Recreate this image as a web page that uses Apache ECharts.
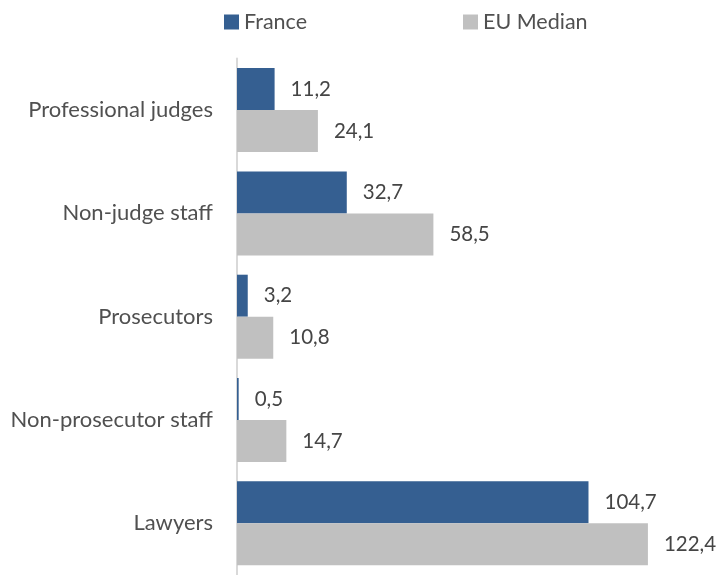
<!DOCTYPE html>
<html><head><meta charset="utf-8">
<script src="https://cdn.jsdelivr.net/npm/echarts@6/dist/echarts.min.js"></script>
<style>html,body{margin:0;padding:0;background:#fff}#c{width:723px;height:575px}</style>
</head><body><div id="c"></div>
<script>
var categories = ['Professional judges', 'Non-judge staff', 'Prosecutors', 'Non-prosecutor staff', 'Lawyers'];
var seriesNames = ['France', 'EU Median'];
var franceValues = [11.2, 32.7, 3.2, 0.5, 104.7];
var euMedianValues = [24.1, 58.5, 10.8, 14.7, 122.4];

var FONT = 'Lato';
var fmt = function (p) { return String(p.value.toFixed(1)).replace('.', ','); };
var chart = echarts.init(document.getElementById('c'));
chart.setOption({
  animation: false,
  textStyle: { fontFamily: FONT },
  legend: {
    left: 219, top: 6, itemWidth: 15, itemHeight: 15, itemGap: 156,
    icon: 'rect',
    textStyle: { fontFamily: FONT, fontSize: 21.5, color: '#505050' },
    data: seriesNames
  },
  grid: { left: 237, top: 58.4, width: 470, height: 522, containLabel: false },
  xAxis: { type: 'value', min: 0, max: 140, show: false },
  yAxis: {
    type: 'category', inverse: true, data: categories,
    axisLine: { show: true, lineStyle: { color: '#d9d9d9', width: 2 } },
    axisTick: { show: false },
    axisLabel: { fontFamily: FONT, fontSize: 22, color: '#505050', margin: 24 }
  },
  series: [
    { name: seriesNames[0], type: 'bar', data: franceValues, barWidth: 42, barGap: '0%',
      itemStyle: { color: '#355f91' },
      label: { show: true, position: 'right', distance: 16, formatter: fmt, fontFamily: FONT, fontSize: 20.5, color: '#454545' } },
    { name: seriesNames[1], type: 'bar', data: euMedianValues, barWidth: 42, barGap: '0%',
      itemStyle: { color: '#c0c0c0' },
      label: { show: true, position: 'right', distance: 16, formatter: fmt, fontFamily: FONT, fontSize: 20.5, color: '#454545' } }
  ]
});
</script></body></html>
